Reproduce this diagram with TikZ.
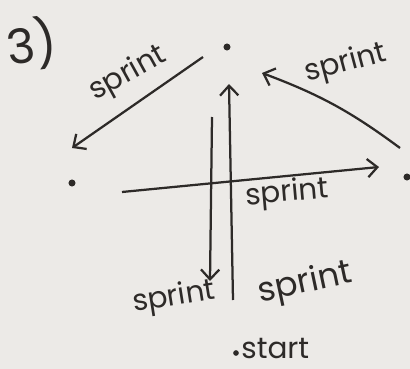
\documentclass[tikz,border=0pt]{standalone}
\usepackage{fontspec}
\setmainfont{Poppins}
\usetikzlibrary{arrows.meta}
\definecolor{paper}{RGB}{236,234,231}
\definecolor{ink}{RGB}{45,42,40}
\tikzset{
  dot/.style={circle,fill=ink,inner sep=0pt,minimum size=5pt},
  lbl/.style={text=ink,font=\fontsize{21}{23}\selectfont,inner sep=1pt},
}
\begin{document}
\begin{tikzpicture}[x=0.025cm,y=-0.025cm,>={Straight Barb[length=7pt,width=13pt]},line width=1.6pt,draw=ink]
\fill[paper] (0,0) rectangle (410,369);
\useasboundingbox (0,0) rectangle (410,369);
\node[text=ink,font=\fontsize{34}{36}\selectfont,rotate=8] (three) at (32,44) {3)};
% the four points
\node[dot] (top) at (227,47) {};
\node[dot] (left) at (72,183) {};
\node[dot] (right) at (407,177) {};
\node[dot,minimum size=4pt] (start) at (236,353) {};
\node[lbl,anchor=base west,inner sep=0pt] (startlbl) at ([xshift=3pt,yshift=-4pt]start.center) {start};
% arrow ends
\coordinate (upfoot) at (233,300);
\coordinate (uptip) at (229,84);
\coordinate (downtop) at (212,117);
\coordinate (downtip) at (210,281);
\coordinate (hfoot) at (122,192);
\coordinate (htip) at (379,167);
\coordinate (lfoot) at (203,57);
\coordinate (ltip) at (72,148);
\coordinate (rfoot) at (400,148);
\coordinate (rtip) at (262,73);
\draw[->] (upfoot)--(uptip);
\draw[->] (downtop)--(downtip);
\draw[->] (hfoot)--(htip);
\draw[->] (lfoot)--(ltip);
\draw[->] (rfoot) to[bend right=8] (rtip);
% labels
\node[lbl,rotate=29] (sl) at (128,74) {sprint};
\node[lbl,rotate=15] (sr) at (346,64) {sprint};
\node[lbl,rotate=5] (sh) at (287,194) {sprint};
\node[lbl,rotate=9] (sd) at (174,298) {sprint};
\node[lbl,rotate=12,font=\fontsize{24}{26}\selectfont] (su) at (305,284) {sprint};
\end{tikzpicture}
\end{document}
